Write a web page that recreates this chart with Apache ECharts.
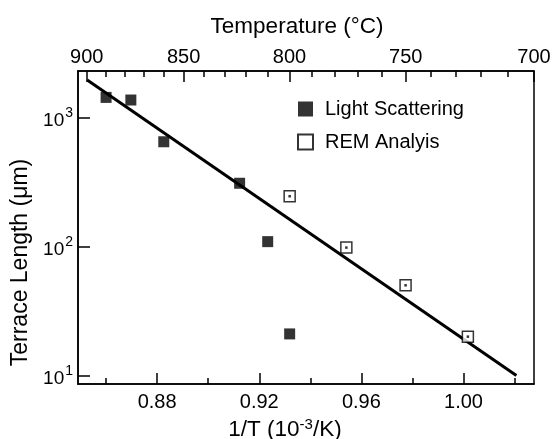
<!DOCTYPE html>
<html>
<head>
<meta charset="utf-8">
<script src="https://cdn.jsdelivr.net/npm/echarts@6/dist/echarts.min.js"></script>
<style>html,body{margin:0;padding:0;background:#fff}#c{width:552px;height:439px}</style>
</head>
<body>
<div id="c"></div>
<script>
// ---- data ----
const lsX = [0.8600, 0.8697, 0.8826, 0.9123, 0.9233, 0.9319];
const lsY = [1430, 1365, 648, 309, 109, 21];
const remX = [0.9319, 0.9541, 0.9773, 1.0017];
const remY = [245, 98, 50, 20];
const fitX = [0.8526, 1.0207];
const fitY = [1950, 10];
const xMajorTicks = [0.88, 0.92, 0.96, 1.00];
const xMinorTicks = [0.86, 0.90, 0.94, 0.98, 1.02];
const tempMajor = [900, 850, 800, 750, 700];
const tempMinor = [890, 880, 870, 860, 840, 830, 820, 810, 790, 780, 770, 760, 740, 730, 720, 710];
const xMin = 0.849, xMax = 1.0276;
const yMin = 8.59, yMax = 2291;

const invT = t => 1000 / (t + 273.15);
const pairs = (xs, ys) => xs.map((x, i) => [x, ys[i]]);
const FONT = '"Liberation Sans", Arial, Helvetica, sans-serif';
const base = { fontFamily: FONT, color: '#000' };
const gridRect = { left: 78, right: 18, top: 71, bottom: 55, outerBoundsMode: 'none', containLabel: false };

const option = {
  animation: false,
  backgroundColor: '#fff',
  textStyle: { fontFamily: FONT, color: '#000' },
  grid: [
    Object.assign({ show: true, borderColor: '#000', borderWidth: 1.5, backgroundColor: 'transparent' }, gridRect),
    Object.assign({ show: false }, gridRect)
  ],
  legend: {
    orient: 'vertical', left: 297, top: 99, padding: 0, itemWidth: 15, itemHeight: 15, itemGap: 13,
    data: ['Light Scattering', 'REM Analyis'],
    textStyle: Object.assign({ fontSize: 20, padding: [0, 0, 0, 7] }, base)
  },
  xAxis: [
    {
      gridIndex: 0, type: 'value', position: 'bottom', min: xMin, max: xMax,
      name: '1/T (10{sup|-3}/K)', nameLocation: 'middle', nameGap: 25,
      nameTextStyle: Object.assign({ fontSize: 22.5, padding: [0, 42, 0, 0],
        rich: { sup: { fontSize: 15, padding: [0, 0, 10, 0], fontFamily: FONT, color: '#000' } } }, base),
      axisLine: { show: true, onZero: false, lineStyle: { color: '#000', width: 1.5 } },
      axisTick: { show: true, inside: true, length: 11, customValues: xMajorTicks, lineStyle: { color: '#000', width: 1.5 } },
      axisLabel: Object.assign({ fontSize: 20, margin: 8, customValues: xMajorTicks, formatter: v => v.toFixed(2) }, base),
      splitLine: { show: false }
    },
    {
      gridIndex: 0, type: 'value', position: 'top', min: xMin, max: xMax,
      name: 'Temperature (°C)', nameLocation: 'middle', nameGap: 33,
      nameTextStyle: Object.assign({ fontSize: 22.5, padding: [0, 18, 0, 0] }, base),
      axisLine: { show: true, onZero: false, lineStyle: { color: '#000', width: 1.5 } },
      axisTick: { show: true, inside: true, length: 11, customValues: tempMajor.map(invT), lineStyle: { color: '#000', width: 1.5 } },
      axisLabel: Object.assign({ fontSize: 20, margin: 4, customValues: tempMajor.map(invT),
        formatter: v => String(Math.round(1000 / v - 273.15)) }, base),
      splitLine: { show: false }
    },
    {
      gridIndex: 1, type: 'value', position: 'bottom', min: xMin, max: xMax,
      axisLine: { show: false },
      axisTick: { show: true, inside: true, length: 6, customValues: xMinorTicks, lineStyle: { color: '#000', width: 1.5 } },
      axisLabel: { show: false },
      splitLine: { show: false }
    },
    {
      gridIndex: 1, type: 'value', position: 'top', min: xMin, max: xMax,
      axisLine: { show: false },
      axisTick: { show: true, inside: true, length: 6, customValues: tempMinor.map(invT), lineStyle: { color: '#000', width: 1.5 } },
      axisLabel: { show: false },
      splitLine: { show: false }
    }
  ],
  yAxis: [
    {
      gridIndex: 0, type: 'log', logBase: 10, min: yMin, max: yMax,
      name: 'Terrace Length (μm)', nameLocation: 'middle', nameGap: 37,
      nameTextStyle: Object.assign({ fontSize: 23, padding: [0, 70, 0, 0] }, base),
      axisLine: { show: true, onZero: false, lineStyle: { color: '#000', width: 1.5 } },
      axisTick: { show: true, inside: true, length: 12, lineStyle: { color: '#000', width: 1.5 } },
      axisLabel: Object.assign({
        fontSize: 20, margin: 5, showMinLabel: false, showMaxLabel: false,
        formatter: v => {
          const l = Math.log10(v);
          if (Math.abs(l - Math.round(l)) > 1e-6) return '';
          return '{b|10}{s|' + Math.round(l) + '}';
        },
        rich: {
          b: { fontSize: 19, padding: [6, 0, 0, 0], fontFamily: FONT, color: '#000' },
          s: { fontSize: 14, padding: [0, 0, 8, 1], fontFamily: FONT, color: '#000' }
        }
      }, base),
      splitLine: { show: false },
      minorTick: { show: false }
    },
    { gridIndex: 1, type: 'value', show: false, min: 0, max: 1 }
  ],
  series: [
    {
      name: 'fit', type: 'line', xAxisIndex: 0, yAxisIndex: 0,
      data: pairs(fitX, fitY), symbol: 'none', silent: true,
      lineStyle: { color: '#000', width: 3 }, z: 2
    },
    {
      name: 'Light Scattering', type: 'scatter', xAxisIndex: 0, yAxisIndex: 0,
      data: pairs(lsX, lsY), symbol: 'rect', symbolSize: 11,
      itemStyle: { color: '#000' }, z: 3
    },
    {
      name: 'REM Analyis', type: 'scatter', xAxisIndex: 0, yAxisIndex: 0,
      data: pairs(remX, remY), symbol: 'rect', symbolSize: 11,
      itemStyle: { color: '#fff', borderColor: '#000', borderWidth: 1.5 }, z: 3
    },
    {
      name: 'REM dot', type: 'scatter', xAxisIndex: 0, yAxisIndex: 0,
      data: pairs(remX, remY), symbol: 'rect', symbolSize: 2.5,
      itemStyle: { color: '#000' }, z: 4, silent: true
    }
  ]
};

const chart = echarts.init(document.getElementById('c'), null, { renderer: 'canvas' });
chart.setOption(option);
</script>
</body>
</html>
